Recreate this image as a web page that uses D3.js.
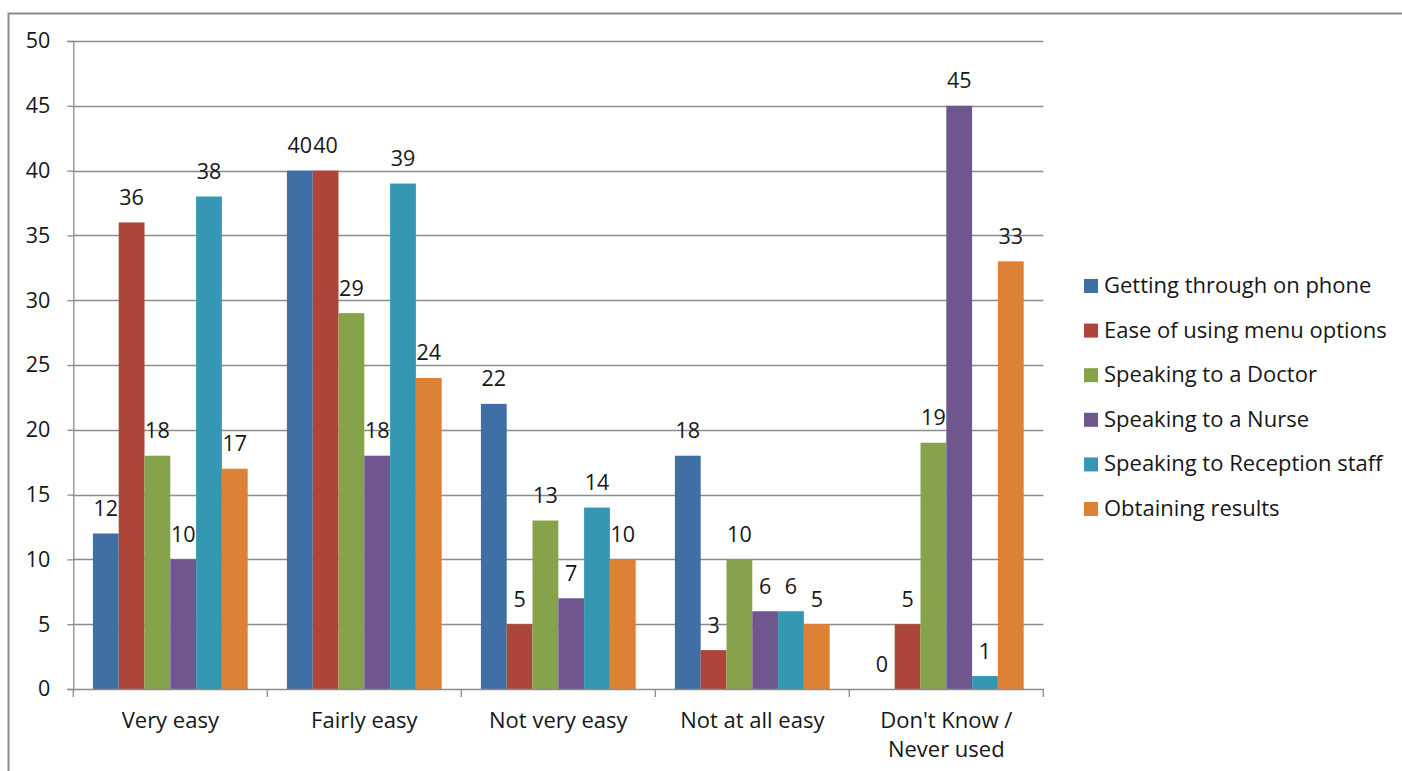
<!DOCTYPE html>
<html>
<head>
<meta charset="utf-8">
<script src="https://cdn.jsdelivr.net/npm/d3@7"></script>
<style>
  html, body { margin: 0; padding: 0; background: #fff; }
  svg { display: block; }
  text { font-family: "Open Sans", sans-serif; fill: #161616; }
</style>
</head>
<body>
<svg id="chart" width="1402" height="771"></svg>
<script>
const categories = ["Very easy", "Fairly easy", "Not very easy", "Not at all easy", "Don't Know / Never used"];
const seriesNames = ["Getting through on phone", "Ease of using menu options", "Speaking to a Doctor", "Speaking to a Nurse", "Speaking to Reception staff", "Obtaining results"];
const gettingThrough = [12, 40, 22, 18, 0];
const menuOptions = [36, 40, 5, 3, 5];
const doctor = [18, 29, 13, 10, 19];
const nurse = [10, 18, 7, 6, 45];
const reception = [38, 39, 14, 6, 1];
const results = [17, 24, 10, 5, 33];
const yTicks = [0, 5, 10, 15, 20, 25, 30, 35, 40, 45, 50];
const colors = ["#3f6fa5", "#ad453b", "#86a24a", "#6f568f", "#3697b2", "#dd8235"];

const seriesValues = [gettingThrough, menuOptions, doctor, nurse, reception, results];
const data = categories.map((c, i) => ({ cat: c, vals: seriesValues.map((s, j) => ({ key: seriesNames[j], value: s[i], idx: j })) }));

const svg = d3.select("#chart");
const plotLeft = 73.3, plotRight = 1043.3, plotTop = 41, plotBottom = 689;

// outer border
svg.append("rect").attr("x", 8.5).attr("y", 13.5).attr("width", 1400).attr("height", 800)
  .attr("fill", "none").attr("stroke", "#8a8a8a").attr("stroke-width", 2);

const y = d3.scaleLinear().domain([0, 50]).range([plotBottom, plotTop]);
const x0 = d3.scaleBand().domain(categories).range([plotLeft, plotRight]).paddingInner(0).paddingOuter(0);
const x1 = d3.scaleBand().domain(seriesNames).range([0, x0.bandwidth()]).paddingInner(0).paddingOuter(0.76);

// gridlines
svg.append("g").selectAll("line").data(yTicks.filter(t => t > 0)).join("line")
  .attr("x1", plotLeft).attr("x2", plotRight)
  .attr("y1", d => Math.round(y(d)) + 0.5).attr("y2", d => Math.round(y(d)) + 0.5)
  .attr("stroke", "#8c8c8c").attr("stroke-width", 1.3);

// y axis
const yAxis = d3.axisLeft(y).tickValues(yTicks).tickSize(6).tickPadding(17);
const gy = svg.append("g").attr("transform", `translate(${plotLeft},0)`).call(yAxis);
gy.select(".domain").attr("stroke", "#8c8c8c").attr("stroke-width", 1.3);
gy.selectAll(".tick line").attr("stroke", "#8c8c8c").attr("stroke-width", 1.3);
gy.selectAll(".tick text").attr("font-size", 21.5).attr("font-family", "Open Sans, sans-serif").attr("fill", "#161616");

// bars
const groups = svg.append("g").selectAll("g").data(data).join("g")
  .attr("transform", d => `translate(${x0(d.cat)},0)`);
groups.selectAll("rect").data(d => d.vals).join("rect")
  .attr("x", d => x1(d.key)).attr("width", x1.bandwidth())
  .attr("y", d => y(d.value)).attr("height", d => y(0) - y(d.value))
  .attr("fill", d => colors[d.idx]);

// value labels
groups.selectAll("text").data(d => d.vals).join("text")
  .attr("x", d => x1(d.key) + x1.bandwidth() / 2)
  .attr("y", d => y(d.value) - 17.5)
  .attr("text-anchor", "middle").attr("font-size", 21.5)
  .text(d => d.value);

// x axis
const xAxis = d3.axisBottom(x0).tickSize(0).tickFormat("");
const gx = svg.append("g").attr("transform", `translate(0,${plotBottom})`).call(xAxis);
gx.select(".domain").attr("stroke", "#8c8c8c").attr("stroke-width", 1.3);
const boundaries = categories.map(c => x0(c)).concat([plotRight]);
gx.selectAll("line.bnd").data(boundaries).join("line").attr("class", "bnd")
  .attr("x1", d => d).attr("x2", d => d).attr("y1", 0).attr("y2", 8)
  .attr("stroke", "#8c8c8c").attr("stroke-width", 1.3);

// category labels
const catLines = { "Don't Know / Never used": ["Don't Know /", "Never used"] };
const cl = svg.append("g").selectAll("text").data(categories).join("text")
  .attr("x", d => x0(d) + x0.bandwidth() / 2)
  .attr("y", 728).attr("text-anchor", "middle").attr("font-size", 22);
cl.each(function(d) {
  const lines = catLines[d] || [d];
  d3.select(this).selectAll("tspan").data(lines).join("tspan")
    .attr("x", x0(d) + x0.bandwidth() / 2)
    .attr("dy", (l, i) => i === 0 ? 0 : 29)
    .text(l => l);
});

// legend
const legend = svg.append("g").selectAll("g").data(seriesNames).join("g")
  .attr("transform", (d, i) => `translate(1084,${293 + i * 44.6})`);
legend.append("rect").attr("x", 0).attr("y", -14).attr("width", 14).attr("height", 14)
  .attr("fill", (d, i) => colors[i]);
legend.append("text").attr("x", 20).attr("y", 0).attr("font-size", 22).text(d => d);
</script>
</body>
</html>
